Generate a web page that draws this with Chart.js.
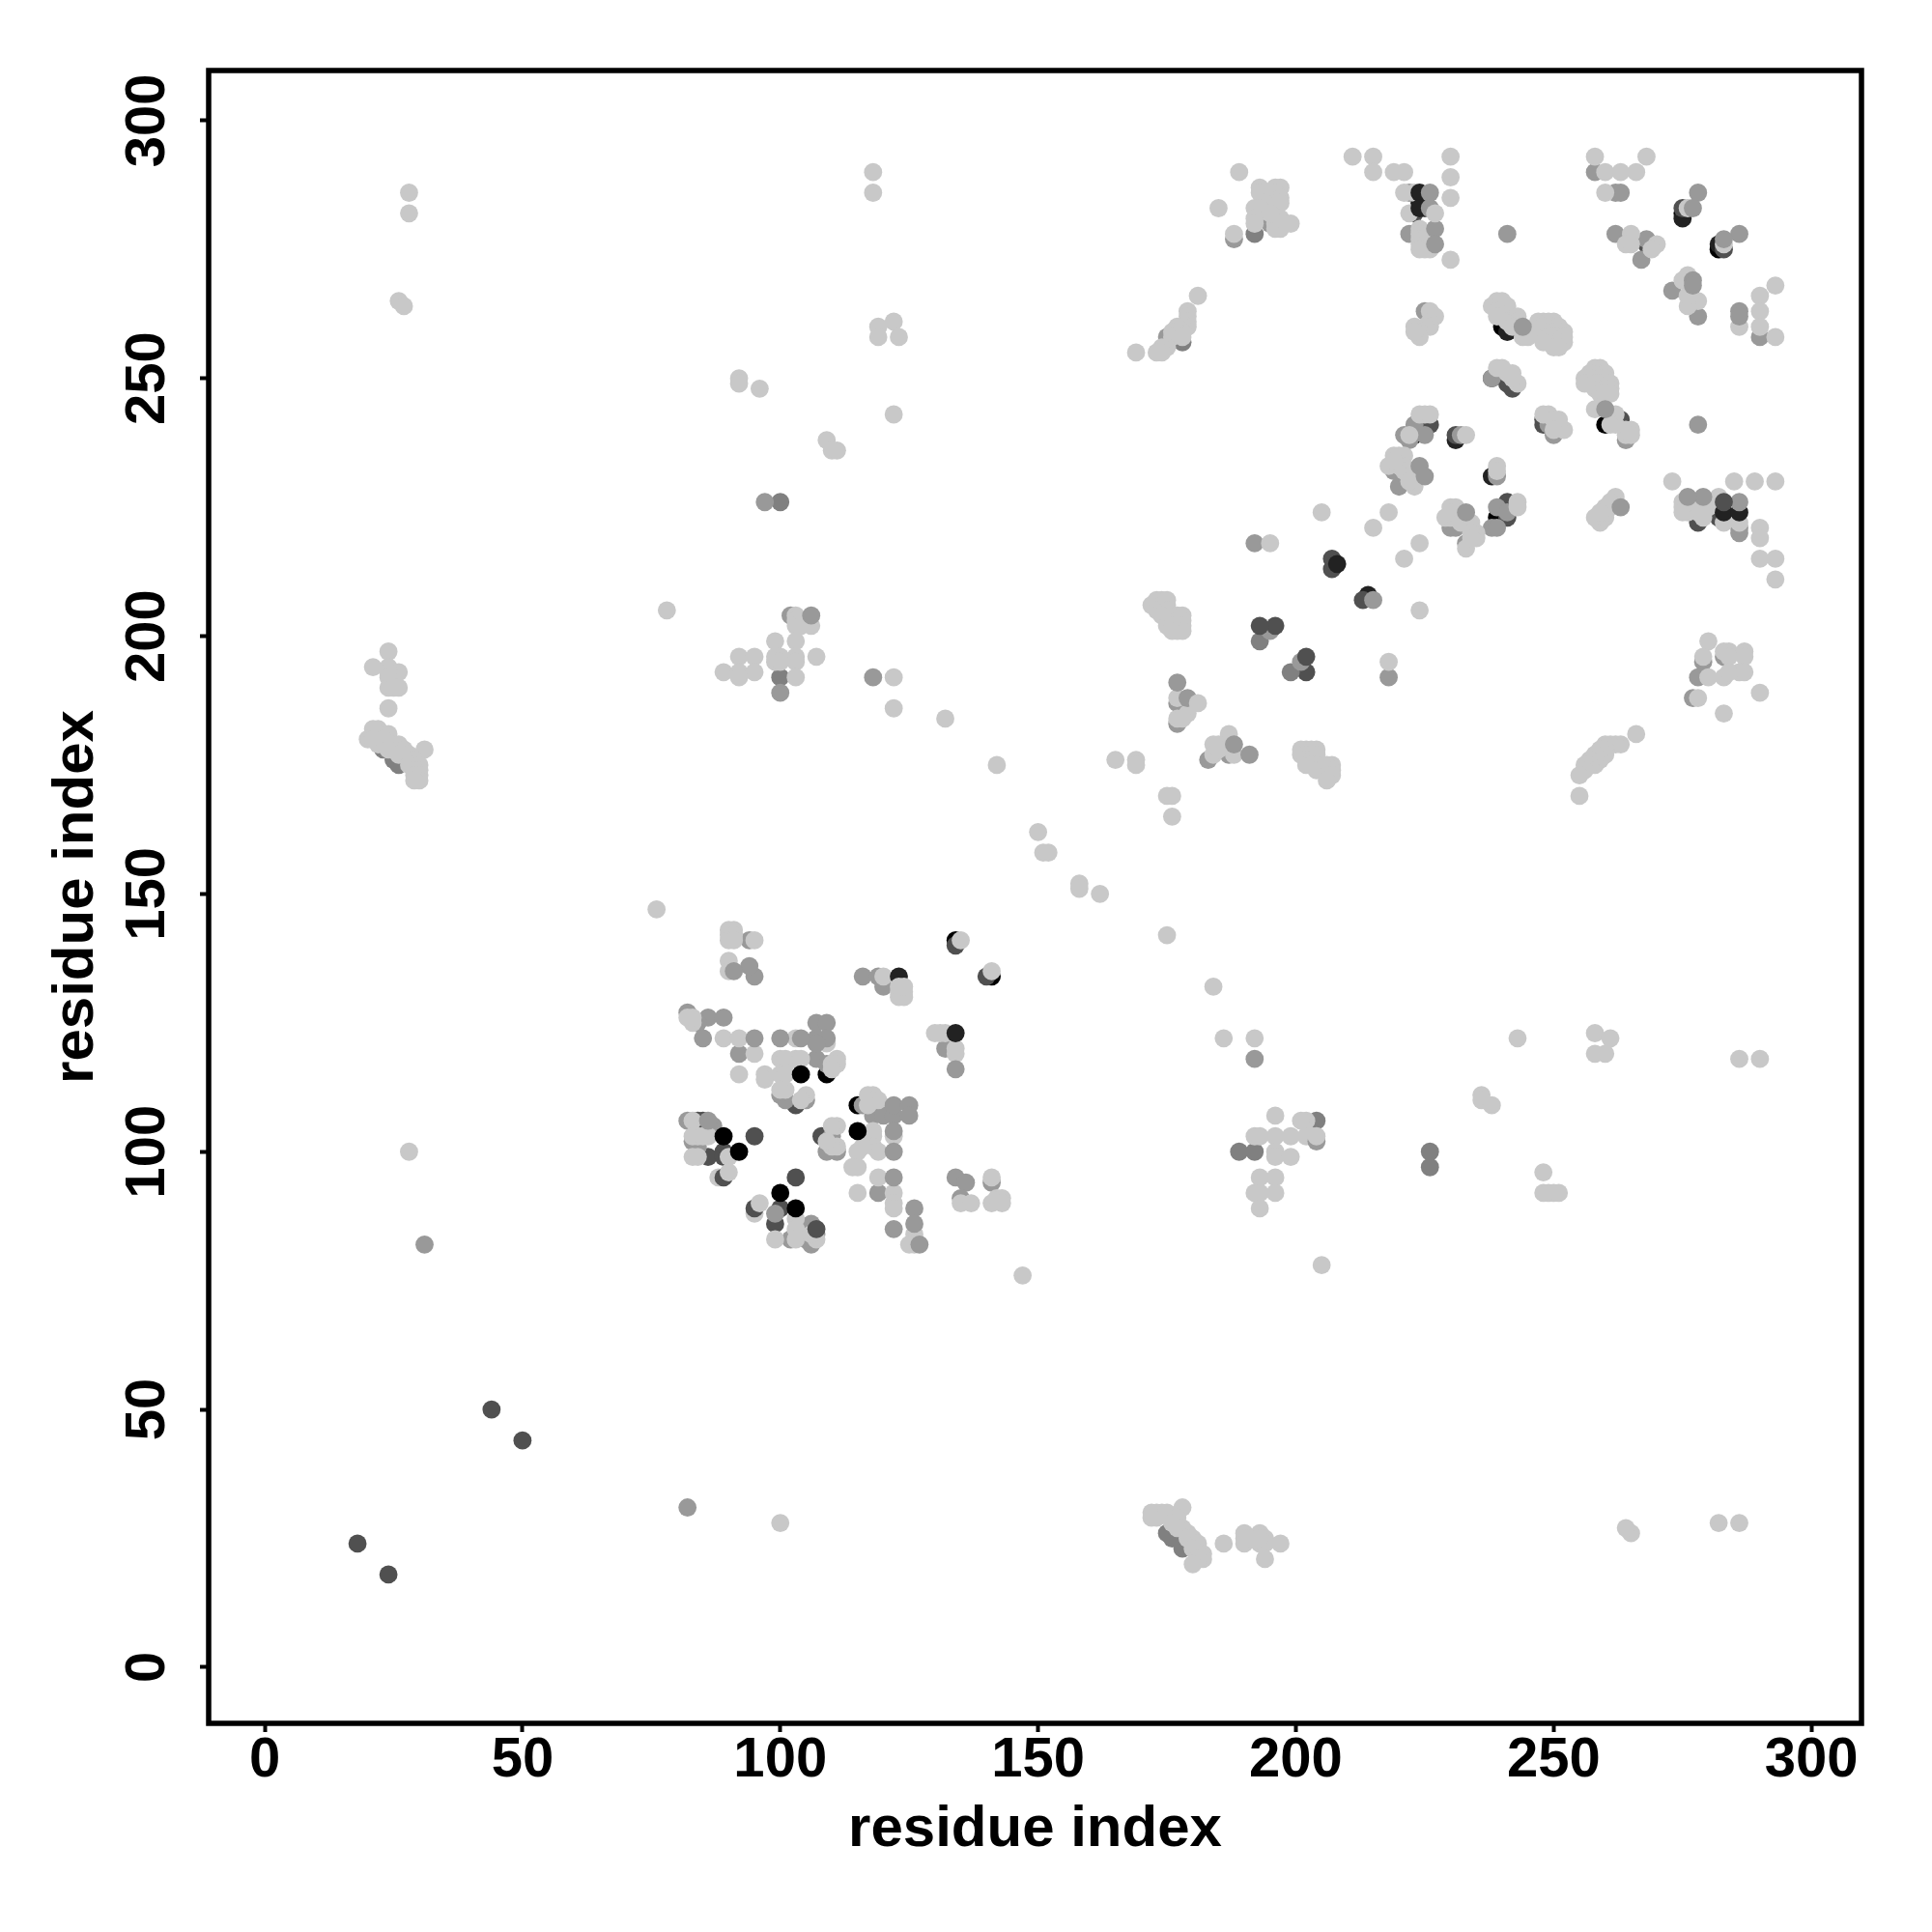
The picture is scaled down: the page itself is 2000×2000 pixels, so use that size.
<!DOCTYPE html>
<html>
<head>
<meta charset="utf-8">
<title>residue contact map</title>
<script src="https://cdn.jsdelivr.net/npm/chart.js@4/dist/chart.umd.min.js"></script>
<style>
html, body { margin: 0; padding: 0; background: #fff; }
canvas { display: block; }
</style>
</head>
<body>
<canvas id="contactMap" width="2000" height="2000"></canvas>
<script>
var tickValues = [0, 50, 100, 150, 200, 250, 300];
var axisTitle = "residue index";

// contacts, [residue, residue], one list per grey level
var blackPts = [[109,115],[115,109],[134,141],[141,134],[275,282],[282,275],[240,260],[260,241],[223,239],[239,223],[186,179],[179,186],[105,84]];
var charcoalPts = [[214,208],[231,238],[238,231],[275,281],[282,276],[224,284],[241,259]];
var darkPts = [[18,24],[24,18],[44,50],[50,44],[85,106],[84,106],[86,99],[89,100],[89,99],[99,86],[100,89],[103,109],[108,103],[134,140],[140,134],
  [225,283],[223,282],[223,278],[196,283],[207,213],[213,207],[226,241],[224,241],[231,239],[241,250],[241,249],[242,248],[248,242],[248,241],[263,242],[241,226],[241,223],[278,222],[282,223],[283,275],[268,276],[275,283],[238,250],[202,193],[207,215]];
var slatePts = [[189,100],[192,100],[100,192],[193,199],[199,193],[226,100],[204,106],[100,226],[226,97],[175,26],[176,25],[178,23],[23,178],[25,176],[26,175],[178,257],[192,278]];
var midPts = [[94,141],[82,127],[86,126],[89,126],[84,125],[85,122],[92,119],[107,122],[107,118],[100,111],[101,110],[105,110],[109,117],
  [82,106],[83,102],[84,101],[87,105],[99,88],[106,86],[106,82],[105,83],[102,83],[107,84],
  [110,103],[111,100],[116,109],[119,108],[118,107],[120,107],[119,92],[122,85],[109,100],
  [116,134],[119,134],[120,132],[132,120],[134,95],[136,94],[135,91],[141,94],[82,31],[31,82],
  [222,286],[222,278],[241,278],[258,290],[262,286],[263,286],[278,286],[262,278],[265,277],[268,277],[267,273],[286,278],[273,267],[277,265],[278,262],[290,258],
  [238,250],[244,259],[264,238],[278,241],[250,239],[249,241],[223,241],[225,239],[221,239],[222,238],[232,239],[239,231],[219,232],[221,230],[220,229],
  [230,221],[231,221],[233,218],[239,225],[241,224],[238,221],[239,221],[286,221],[286,220],[218,192],[192,218],[195,201],[201,195],
  [188,277],[195,280],[175,258],[175,257],[279,195],[283,196],[278,192],[277,188],[177,187],[177,183],[187,177],[183,176],[102,204],[97,226],[192,118],[225,263],[196,282]];
var lightPts = [[90,143],[91,143],[90,142],[91,142],[90,141],[91,141],[95,141],[90,137],[90,135],[82,126],[83,125],[83,126],
  [89,122],[92,122],[95,119],[92,115],[97,115],[97,114],[103,122],[109,121],[100,118],[101,117],[101,118],[103,118],[104,118],[100,115],[101,115],[101,112],[105,111],[104,110],[111,118],[110,117],[111,117],[110,116],[100,112],
  [83,106],[84,103],[83,103],[86,103],[85,103],[83,99],[84,99],[90,99],[88,95],[95,88],[103,87],[103,85],[103,83],[99,83],[107,83],[106,84],
  [111,105],[110,105],[118,111],[117,111],[118,110],[119,110],[117,109],[118,104],[118,103],[118,101],[119,100],[115,100],[116,101],[111,101],[110,101],[109,102],[122,103],[114,97],[115,97],[119,95],[115,92],[122,92],[122,90],[122,89],[126,84],[126,82],[125,82],
  [120,134],[123,131],[124,131],[123,130],[124,130],[135,141],[141,135],[130,123],[131,123],[132,123],[134,120],[134,119],[135,90],[137,90],[141,95],[141,90],[142,91],[143,91],[143,90],[147,76],[76,147],
  [211,293],[215,293],[215,290],[219,290],[221,290],[230,293],[230,289],[230,285],[230,273],[221,286],[223,286],[222,282],[224,279],[224,278],[225,278],[224,277],[225,277],[224,276],[225,276],[226,276],[224,275],[225,275],[226,275],[226,278],
  [258,293],[268,293],[260,290],[263,290],[266,290],[260,286],[276,283],[283,276],[265,278],[264,276],[265,276],[270,276],[269,275],[276,270],[275,269],[278,265],[276,264],[276,266],[293,268],[290,266],[290,263],[286,260],[290,260],[293,258],
  [226,263],[227,262],[226,261],[226,260],[225,260],[223,260],[224,259],[224,258],[223,259],
  [238,264],[239,264],[240,264],[239,265],[240,265],[241,264],[239,263],[240,262],[239,262],[241,261],[243,262],[243,261],[242,260],[244,258],[245,258],
  [247,261],[248,261],[249,261],[250,261],[247,260],[248,260],[249,260],[250,260],[251,260],[248,259],[249,259],[250,259],[251,259],[252,259],[249,258],[250,258],[251,258],[252,258],[250,257],[251,257],[252,257],[250,256],[251,256],[248,257],
  [258,252],[259,252],[257,251],[258,251],[259,251],[260,251],[256,250],[257,250],[258,250],[259,250],[260,250],[256,249],[257,249],[258,249],[259,249],[260,249],[261,249],[258,248],[259,248],[260,248],[261,248],[259,247],[260,247],[261,247],
  [240,252],[239,252],[242,251],[243,249],[242,250],[241,251],[258,244],[262,243],[264,240],[265,240],[264,239],[265,239],[262,241],[261,241],
  [249,243],[248,243],[251,242],[250,242],[252,240],[251,241],[250,240],[224,243],[225,243],[226,243],[222,239],[233,239],[239,233],[239,232],
  [219,235],[220,235],[221,235],[218,233],[220,233],[221,233],[222,232],[221,232],[223,231],[222,231],[223,230],[223,229],[222,230],[219,234],
  [205,224],[218,224],[215,221],[224,218],[221,215],[224,205],[231,225],[230,225],[229,223],[230,223],[231,223],[230,224],[232,222],[233,222],[234,222],[234,221],[235,220],[235,219],[234,220],[233,217],[234,219],[243,226],[243,225],
  [258,223],[259,222],[260,223],[260,224],[260,225],[261,225],[262,227],[261,226],[259,224],[273,230],[285,230],[289,230],[293,230],[282,227],[275,226],[275,225],[275,224],[276,224],[277,225],[278,224],[279,224],[279,223],[280,225],[276,226],[286,222],[283,222],[290,221],[290,219],[290,215],[293,215],[293,211],
  [280,199],[279,196],[283,197],[284,197],[287,197],[287,196],[284,196],[280,192],[283,192],[286,193],[287,193],[284,193],[278,188],[290,189],[283,185],
  [266,181],[263,179],[262,179],[261,179],[260,179],[260,178],[260,177],[259,178],[259,176],[258,177],[258,175],[257,176],[257,175],[256,175],[256,174],[255,173],[255,169],
  [189,290],[185,283],[193,287],[193,286],[196,287],[197,287],[196,286],[197,285],[197,284],[196,284],[194,284],[192,283],[193,283],[192,281],[192,280],[188,278],[196,280],[196,279],[197,279],[197,281],[199,280],[195,282],
  [181,266],[179,263],[179,262],[179,261],[179,260],[178,260],[177,260],[178,259],[176,259],[177,259],[176,258],[178,258],[175,256],[174,256],[173,255],[174,255],[169,255],
  [172,206],[173,207],[174,207],[175,207],[174,206],[175,206],[173,205],[174,205],[175,205],[174,204],[175,203],[175,202],[176,204],[177,204],[178,204],[177,203],[178,203],[177,202],[178,202],[177,201],[178,201],[176,202],[176,201],
  [177,188],[179,185],[177,184],[178,184],[187,181],[184,179],[185,179],[184,177],[185,178],[188,177],
  [201,178],[202,178],[203,178],[204,178],[201,177],[202,177],[203,177],[204,177],[202,176],[203,176],[202,175],[203,175],[204,175],[204,174],[205,174],[207,175],[206,175],[207,174],[207,173],[206,173],[206,172],
  [165,176],[169,176],[169,175],[175,169],[176,169],[176,165],[195,218],[218,195],
  [103,204],[103,203],[103,202],[104,202],[106,202],[99,199],[103,199],[92,196],[95,196],[99,196],[100,196],[103,196],[107,196],[103,195],[89,193],[92,193],[95,193],[92,192],[103,192],[122,192],[122,186],[99,195],[100,195],
  [24,197],[21,194],[24,194],[25,193],[26,193],[24,193],[24,192],[24,190],[25,190],[26,190],[24,186],[21,182],[22,182],[23,181],[24,181],[20,180],[21,180],[22,179],[23,180],[25,179],[26,179],[24,178],[27,178],[26,177],[28,177],[31,178],[29,176],[28,175],[29,175],[30,175],[30,174],[29,174],[29,173],[30,173],[30,172],[29,172],
  [172,30],[173,30],[174,30],[172,29],[173,29],[175,30],[176,29],[178,31],[177,29],[176,28],[179,26],[178,27],[177,27],[180,25],[179,25],[181,24],[180,23],[182,22],[181,22],[182,21],[181,21],[180,20],[186,24],[190,26],[190,25],[190,24],[193,26],[193,24],[194,25],[194,24],[197,24],[194,21],[191,25],[193,25],
  [196,107],[192,103],[193,103],[196,103],[199,103],[202,103],[202,106],[196,100],[196,99],[199,99],[193,95],[196,95],[192,92],[193,92],[196,92],[193,89],[203,103],[201,106],
  [92,250],[92,249],[96,248],[118,290],[118,286],[122,243],[119,260],[119,258],[122,261],[123,258],[109,238],[110,236],[111,236],[78,205],[28,286],[28,282],[26,265],[27,264],[28,100],[132,184],[142,175],[150,162],[151,158],[152,158],[158,152],[158,151],[162,150],[175,142],[184,132],[186,122],[192,122],[243,122],[258,123],[258,119],[260,119],[261,122],[236,111],[236,110],[238,109],[205,78],[248,96],[248,92],[250,92],[249,92],[251,92],[286,118],[290,118],[265,26],[264,27],[282,28],[286,28],[100,28]];

// these sit on top of the light dots in the picture
var overBlackPts = [[104,115],[115,104],[89,103],[103,89],[92,100],[100,92]];
var overCharcoalPts = [[123,134],[134,123],[208,214],[283,224],[286,224],[224,286],[224,283]];
var overMidPts = [[226,286],[226,283],[227,279],[227,276],[277,283],[283,277],[277,269],[277,268],[286,263],[286,262],[233,224],[224,233],[225,231],[263,225],[215,207],[188,179],[179,188],[191,177],[177,191],[204,102],
  [122,107],[122,109],[125,109],[125,107],[122,104],[122,100],[127,82],[126,89],[126,86],[107,125],[109,125],[109,122],[107,121],[104,122],[95,122],[100,122],[86,106],[95,134],[94,136],[91,135],[122,95],[134,116],[100,189],[106,204],[118,192],[286,226],[279,227],[276,227],[244,260],[260,244]];
var overDarkPts = [[107,85],[196,202],[193,202],[202,196],[283,226],[95,103],[103,95],[89,95],[95,89]];
var overLightPts = [[90,96],[96,90],[123,132],[124,132],[227,282],[181,187],[204,103]];

var layers = [
    [blackPts, "#000000"],
    [charcoalPts, "#222222"],
    [darkPts, "#505050"],
    [slatePts, "#808080"],
    [midPts, "#999999"],
    [lightPts, "#c8c8c8"],
    [overBlackPts, "#000000"],
    [overCharcoalPts, "#222222"],
    [overMidPts, "#999999"],
    [overDarkPts, "#505050"],
    [overLightPts, "#c8c8c8"]
];

function makeDatasets() {
    return layers.map(function(layer, i) {
        return {
            data: layer[0].map(function(p) { return { x: p[0], y: p[1] }; }),
            backgroundColor: layer[1],
            pointRadius: 9.4,
            pointBorderWidth: 0,
            order: layers.length - i
        };
    });
}

var tickFont = { family: "'Liberation Sans'", size: 58, weight: "bold" };
var titleFont = { family: "'Liberation Sans'", size: 60, weight: "bold" };

function setTicks(scale) {
    scale.ticks = tickValues.map(function(v) { return { value: v }; });
}

var boxPlugin = {
    id: "box",
    afterDatasetsDraw: function(chart) {
        var a = chart.chartArea;
        var ctx = chart.ctx;
        ctx.save();
        ctx.strokeStyle = "#000";
        ctx.lineWidth = 5.5;
        ctx.strokeRect(a.left, a.top, a.right - a.left, a.bottom - a.top);
        ctx.restore();
    }
};

new Chart(document.getElementById("contactMap"), {
    type: "scatter",
    data: { datasets: makeDatasets() },
    plugins: [boxPlugin],
    options: {
        responsive: false,
        animation: false,
        devicePixelRatio: 1,
        layout: { padding: { top: 73, right: 73, left: 0, bottom: 0 } },
        plugins: { legend: { display: false }, tooltip: { enabled: false } },
        scales: {
            x: {
                type: "linear",
                min: -10.87,
                max: 309.7,
                afterBuildTicks: setTicks,
                afterFit: function(scale) { scale.height = 216; },
                grid: { drawOnChartArea: false, drawTicks: true, tickLength: 9, tickWidth: 4, tickColor: "#000" },
                border: { display: false },
                ticks: { color: "#000", font: tickFont, padding: -5, maxRotation: 0, minRotation: 0 },
                title: { display: true, text: axisTitle, color: "#000", font: titleFont, padding: { top: 0, bottom: 70 } }
            },
            y: {
                type: "linear",
                min: -10.87,
                max: 309.7,
                afterBuildTicks: setTicks,
                afterFit: function(scale) { scale.width = 216; },
                grid: { drawOnChartArea: false, drawTicks: true, tickLength: 9, tickWidth: 4, tickColor: "#000" },
                border: { display: false },
                ticks: { color: "#000", font: tickFont, padding: 5, minRotation: 90, maxRotation: 90, crossAlign: "center" },
                title: { display: true, text: axisTitle, color: "#000", font: titleFont, padding: { top: 43, bottom: 0 } }
            }
        }
    }
});
</script>
</body>
</html>
